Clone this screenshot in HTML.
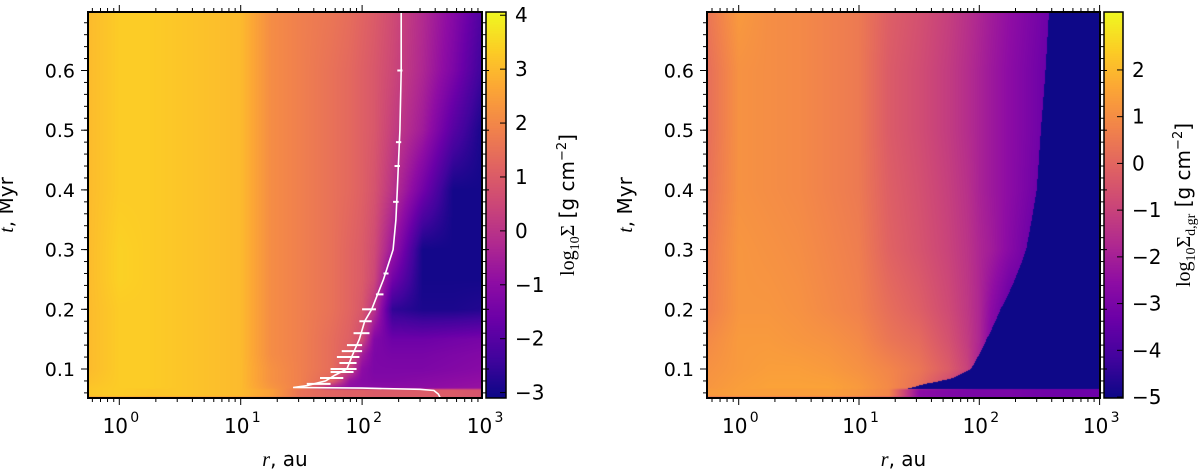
<!DOCTYPE html>
<html><head><meta charset="utf-8">
<style>
html,body{margin:0;padding:0;background:#fff;}
#wrap{position:relative;width:1200px;height:472px;overflow:hidden;font-family:"DejaVu Sans","Liberation Sans",sans-serif;}
canvas{position:absolute;}
svg{position:absolute;left:0;top:0;}
</style></head>
<body>
<div id="wrap">
<canvas id="hmL" style="left:88px;top:12px" width="394" height="386"></canvas>
<canvas id="hmR" style="left:707px;top:12px" width="393" height="386"></canvas>
<canvas id="cbL" style="left:486px;top:12px" width="20" height="386"></canvas>
<canvas id="cbR" style="left:1104px;top:12px" width="19" height="386"></canvas>
<svg id="ov" width="1200" height="472"></svg>
</div>
<script>
// ---- data: grid columns (log10 r, au) ----
const gridLogR = [-0.26,0,0.25,0.5,0.75,1.0,1.25,1.5,1.75,1.9,2.0,2.1,2.25,2.5,2.75,3.0];
// left panel: log10 Sigma gas
const gasT = [0.05,0.055,0.065,0.068,0.08,0.1,0.125,0.15,0.2,0.25,0.3,0.4,0.5,0.6,0.7];
const gasVals = [
[1.2,1.2,1.2,1.2,1.2,1.2,1.1,1.0,1.0,1.0,1.0,1.0,1.0,1.0,0.9,0.8],
[3.2,3.3,3.2,3.2,3.1,3.0,2.5,1.5,1.2,1.1,1.1,1.0,1.0,1.0,1.0,0.8],
[3.2,3.3,3.2,3.2,3.1,3.0,2.5,1.5,1.2,1.1,1.1,1.0,1.0,1.0,1.0,0.8],
[3.2,3.3,3.3,3.2,3.1,3.0,2.3,1.8,-0.6,-1.0,-1.0,-1.0,-1.0,-1.0,-0.9,-0.8],
[3.1,3.3,3.3,3.2,3.1,3.0,2.2,1.8,1.2,-0.8,-1.1,-1.2,-1.2,-1.1,-1.0,-0.9],
[3.0,3.3,3.3,3.2,3.1,3.0,2.2,1.8,1.4,0.5,-1.0,-1.3,-1.3,-1.3,-1.2,-1.1],
[3.0,3.3,3.3,3.2,3.1,3.0,2.1,1.8,1.4,1.0,-0.5,-1.3,-1.4,-1.4,-1.3,-1.2],
[3.0,3.3,3.3,3.2,3.1,3.0,2.1,1.8,1.4,1.1,0.6,-1.2,-1.6,-1.6,-1.5,-1.4],
[3.0,3.3,3.3,3.2,3.1,3.0,2.1,1.8,1.5,1.2,0.9,0.0,-2.6,-2.9,-2.9,-2.8],
[3.0,3.4,3.3,3.2,3.1,3.0,2.1,1.8,1.5,1.2,1.0,0.5,-1.5,-3.0,-3.0,-3.0],
[3.0,3.4,3.3,3.2,3.1,3.0,2.1,1.8,1.5,1.2,1.0,0.6,-0.7,-3.0,-3.0,-3.0],
[3.0,3.3,3.3,3.2,3.1,3.0,2.1,1.8,1.5,1.3,1.1,0.8,0.0,-1.5,-3.0,-3.0],
[3.0,3.3,3.3,3.2,3.1,3.0,2.1,1.8,1.5,1.3,1.1,0.9,0.3,-0.6,-2.0,-3.0],
[3.0,3.3,3.3,3.2,3.1,3.0,2.1,1.8,1.5,1.3,1.1,0.9,0.5,-0.3,-1.3,-2.5],
[3.0,3.3,3.3,3.2,3.1,3.0,2.1,1.8,1.6,1.4,1.2,1.0,0.6,-0.2,-1.1,-2.2]];
// right panel: log10 Sigma dust
const dustT = [0.05,0.055,0.065,0.068,0.1,0.15,0.2,0.3,0.4,0.5,0.6,0.7];
const dustVals = [
[-1.2,-1.2,-1.3,-1.4,-1.5,-1.7,-2.0,-2.4,-2.7,-2.8,-2.9,-2.9,-2.9,-3.0,-3.0,-3.0],
[1.3,1.4,1.4,1.4,1.4,1.2,0.8,-2.6,-2.9,-3.0,-3.0,-3.0,-3.0,-3.2,-3.3,-3.3],
[1.3,1.4,1.4,1.4,1.4,1.2,0.8,-2.6,-2.9,-3.0,-3.0,-3.0,-3.0,-3.2,-3.3,-3.3],
[1.2,1.4,1.5,1.5,1.5,1.3,0.9,0.2,-1.0,-2.0,-3.0,-3.0,-3.0,-3.0,-3.0,-3.0],
[1.1,1.3,1.4,1.4,1.3,1.1,0.8,0.4,-0.3,-1.0,-2.0,-3.0,-3.0,-3.0,-3.0,-3.0],
[0.9,1.3,1.3,1.2,1.1,0.9,0.4,0.1,-0.6,-1.2,-1.8,-2.8,-3.5,-3.5,-3.5,-3.5],
[0.6,1.2,1.2,1.1,0.9,0.7,0.2,-0.2,-0.8,-1.3,-1.8,-2.6,-3.5,-3.5,-3.5,-3.5],
[0.5,1.2,1.1,1.0,0.8,0.6,-0.1,-0.5,-1.0,-1.4,-1.8,-2.1,-2.7,-3.6,-4.0,-4.0],
[0.3,1.1,1.0,0.9,0.7,0.5,-0.2,-0.6,-1.1,-1.5,-1.9,-2.2,-2.6,-3.3,-4.0,-4.0],
[0.2,1.1,1.0,0.9,0.7,0.5,-0.3,-0.7,-1.2,-1.6,-1.9,-2.2,-2.6,-3.2,-3.8,-4.0],
[0.2,1.1,1.0,0.9,0.7,0.5,-0.3,-0.7,-1.2,-1.6,-1.9,-2.2,-2.6,-3.2,-3.8,-4.0],
[0.4,1.3,1.0,0.9,0.7,0.5,-0.2,-0.6,-1.1,-1.5,-1.8,-2.1,-2.5,-3.1,-3.7,-4.0]];
// dust disc outer edge (au) vs time
const dustEdgeT = [0.05,0.066,0.067,0.075,0.085,0.1,0.15,0.2,0.3,0.4,0.5,0.6,0.7];
const dustEdgeR = [1000,1000,25,35,60,85,115,150,245,300,325,355,380];
// white line: disc radius
const lineT = [0.052,0.058,0.064,0.066,0.068,0.069,0.072,0.08,0.09,0.1,0.12,0.15,0.18,0.2,0.25,0.3,0.35,0.4,0.5,0.6,0.7];
const lineR = [440,425,390,300,100,27,35,50,60,75,82,95,105,120,150,180,190,195,205,210,210];
const barT  = [0.075,0.085,0.095,0.1,0.11,0.12,0.13,0.14,0.16,0.18,0.2,0.225,0.26,0.38,0.44,0.48,0.6];
const barR0 = [35,45,55,55,65,62,68,75,85,95,100,130,150,180,185,190,195];
const barR1 = [55,70,85,90,90,95,100,100,115,120,130,150,165,200,205,210,215];
// ticks
const yTicks = [0.1,0.2,0.3,0.4,0.5,0.6];
const xTickExp = [0,1,2,3];
const cbTicksL = [4,3,2,1,0,-1,-2,-3];
const cbTicksR = [2,1,0,-1,-2,-3,-4,-5];

const plasma=[[13,8,135],[65,4,157],[106,0,168],[143,13,164],[177,42,144],[204,71,120],[225,100,98],[242,132,75],[252,166,54],[252,206,37],[240,249,33]];
function cmap(f){f=Math.max(0,Math.min(1,f));const p=f*10,i=Math.min(9,Math.floor(p)),u=p-i;const a=plasma[i],b=plasma[i+1];return [a[0]+(b[0]-a[0])*u,a[1]+(b[1]-a[1])*u,a[2]+(b[2]-a[2])*u];}
function interp1(xs,ys,x){if(x<=xs[0])return ys[0];for(let i=1;i<xs.length;i++){if(x<=xs[i]){const u=(x-xs[i-1])/(xs[i]-xs[i-1]);return ys[i-1]+(ys[i]-ys[i-1])*u;}}return ys[ys.length-1];}
function gridVal(T,V,t,lr){let k=0;while(k<T.length-2&&t>T[k+1])k++;const u=Math.max(0,Math.min(1,(t-T[k])/(T[k+1]-T[k])));return (1-u)*interp1(gridLogR,V[k],lr)+u*interp1(gridLogR,V[k+1],lr);}

const P={L:{x0:88,x1:482,dec0:119.3,decW:121.4,vmin:-3.1,vmax:4.06,cbx:486},R:{x0:707,x1:1100,dec0:738.7,decW:120.3,vmin:-5.02,vmax:3.24,cbx:1104}};
const Y0=12,Y1=398;
function ty(t){return 369+(0.1-t)*597;}
function yt(y){return 0.1-(y-369)/597;}
function rx(p,lr){return p.dec0+lr*p.decW;}

function drawHM(id,p,fn){const c=document.getElementById(id),ctx=c.getContext('2d');const W=c.width,H=c.height,img=ctx.createImageData(W,H);
for(let j=0;j<H;j++){const t=yt(Y0+j+0.5);for(let i=0;i<W;i++){const lr=(p.x0+i+0.5-p.dec0)/p.decW;const v=fn(t,lr);const col=cmap((v-p.vmin)/(p.vmax-p.vmin));const o=(j*W+i)*4;img.data[o]=col[0];img.data[o+1]=col[1];img.data[o+2]=col[2];img.data[o+3]=255;}}
ctx.putImageData(img,0,0);}
drawHM('hmL',P.L,(t,lr)=>gridVal(gasT,gasVals,t,lr));
drawHM('hmR',P.R,(t,lr)=>{const e=Math.log10(interp1(dustEdgeT,dustEdgeR,t));if(lr>e)return -5;return gridVal(dustT,dustVals,t,lr);});
function drawCB(id,p){const c=document.getElementById(id),ctx=c.getContext('2d');for(let j=0;j<c.height;j++){const v=p.vmax-(j+0.5)/c.height*(p.vmax-p.vmin);const col=cmap((v-p.vmin)/(p.vmax-p.vmin));ctx.fillStyle=`rgb(${col[0]|0},${col[1]|0},${col[2]|0})`;ctx.fillRect(0,j,c.width,1);}}
drawCB('cbL',P.L);drawCB('cbR',P.R);

const NS='http://www.w3.org/2000/svg',svg=document.getElementById('ov');
function el(tag,attrs,parent){const e=document.createElementNS(NS,tag);for(const k in attrs)e.setAttribute(k,attrs[k]);(parent||svg).appendChild(e);return e;}
function tick(x1,y1,x2,y2){const l=el('line',{x1,y1,x2,y2,stroke:'#000','stroke-width':1});}

// white line on left panel
{const p=P.L;let d='';lineT.forEach((t,i)=>{d+=(i?'L':'M')+rx(p,Math.log10(lineR[i])).toFixed(1)+','+ty(t).toFixed(1);});
const g=el('g',{});
el('path',{d,fill:'none',stroke:'#fff','stroke-width':1.6},g);
barT.forEach((t,i)=>{const b=el('line',{x1:rx(p,Math.log10(barR0[i])),x2:rx(p,Math.log10(barR1[i])),y1:ty(t),y2:ty(t),stroke:'#fff','stroke-width':2},g);});}

function axes(key,side){const p=P[key];
const f=el('rect',{x:p.x0,y:Y0,width:p.x1-p.x0,height:Y1-Y0,fill:'none',stroke:'#000','stroke-width':2});

for(let k=-1;k<=3;k++)for(let m=1;m<=9;m++){const lr=k+Math.log10(m);const x=rx(p,lr);if(x<p.x0-0.5||x>p.x1+1.5)continue;const L=m===1?7:4;tick(x,Y1,x,Y1+L);tick(x,Y0,x,Y0-L);}
xTickExp.forEach(e=>{const x=rx(p,e);const t=el('text',{x:x-4,y:433,'font-size':20,'text-anchor':'middle',fill:'#000'});t.textContent='10';const s=el('text',{x:x+11,y:422,'font-size':14,fill:'#000'});s.textContent=String(e);});
for(let t=0.06;t<0.7;t+=0.02){const y=ty(t);tick(p.x0-4,y,p.x0,y);tick(p.x1,y,p.x1+4,y);}
yTicks.forEach(v=>{const y=ty(v);tick(p.x0-7,y,p.x0,y);tick(p.x1,y,p.x1+7,y);const t=el('text',{x:p.x0-13,y:y+7,'font-size':19,'text-anchor':'end',fill:'#000'});t.textContent=v.toFixed(1);});
const xl=el('text',{x:(p.x0+p.x1)/2,y:466,'font-size':20,'text-anchor':'middle',fill:'#000'});
el('tspan',{'font-family':'Liberation Serif, serif','font-style':'italic'},xl).textContent='r';el('tspan',{},xl).textContent=', au';
const yx=p.x0-75;const yl=el('text',{x:yx,y:205,'font-size':20,'text-anchor':'middle',fill:'#000',transform:`rotate(-90 ${yx} 205)`});
el('tspan',{'font-family':'Liberation Serif, serif','font-style':'italic'},yl).textContent='t';el('tspan',{},yl).textContent=', Myr';
const cw=key==='L'?20:19;const cb=el('rect',{x:p.cbx,y:Y0,width:cw,height:Y1-Y0,fill:'none',stroke:'#000','stroke-width':1.5});
const ticks=key==='L'?cbTicksL:cbTicksR;
ticks.forEach(v=>{const y=Y0+(p.vmax-v)/(p.vmax-p.vmin)*(Y1-Y0);tick(p.cbx+cw-6,y,p.cbx+cw,y);const t=el('text',{x:p.cbx+cw+9,y:y+7,'font-size':20,fill:'#000'});t.textContent=(v<0?'\u2212':'')+Math.abs(v);});
}
axes('L','left');axes('R','right');

function cbTitle(cx,sub,name){const t=el('text',{x:cx,y:205,'font-size':20,'text-anchor':'middle',fill:'#000',transform:`rotate(-90 ${cx} 205)`});
el('tspan',{'font-family':'Liberation Serif, serif'},t).textContent='log';el('tspan',{'font-family':'Liberation Serif, serif','font-size':14,dy:5},t).textContent='10';
el('tspan',{'font-family':'Liberation Serif, serif',dy:-5},t).textContent='\u03A3';
if(sub){el('tspan',{'font-family':'Liberation Serif, serif','font-size':14,dy:5},t).textContent=sub;el('tspan',{dy:-5},t).textContent=' [g cm';}else{el('tspan',{},t).textContent=' [g cm';}
el('tspan',{'font-size':13,dy:-8},t).textContent='\u22122';el('tspan',{dy:8},t).textContent=']';}
cbTitle(574,'','gas-colorbar-title');cbTitle(1190,'d,gr','dust-colorbar-title');
</script>
</body></html>
